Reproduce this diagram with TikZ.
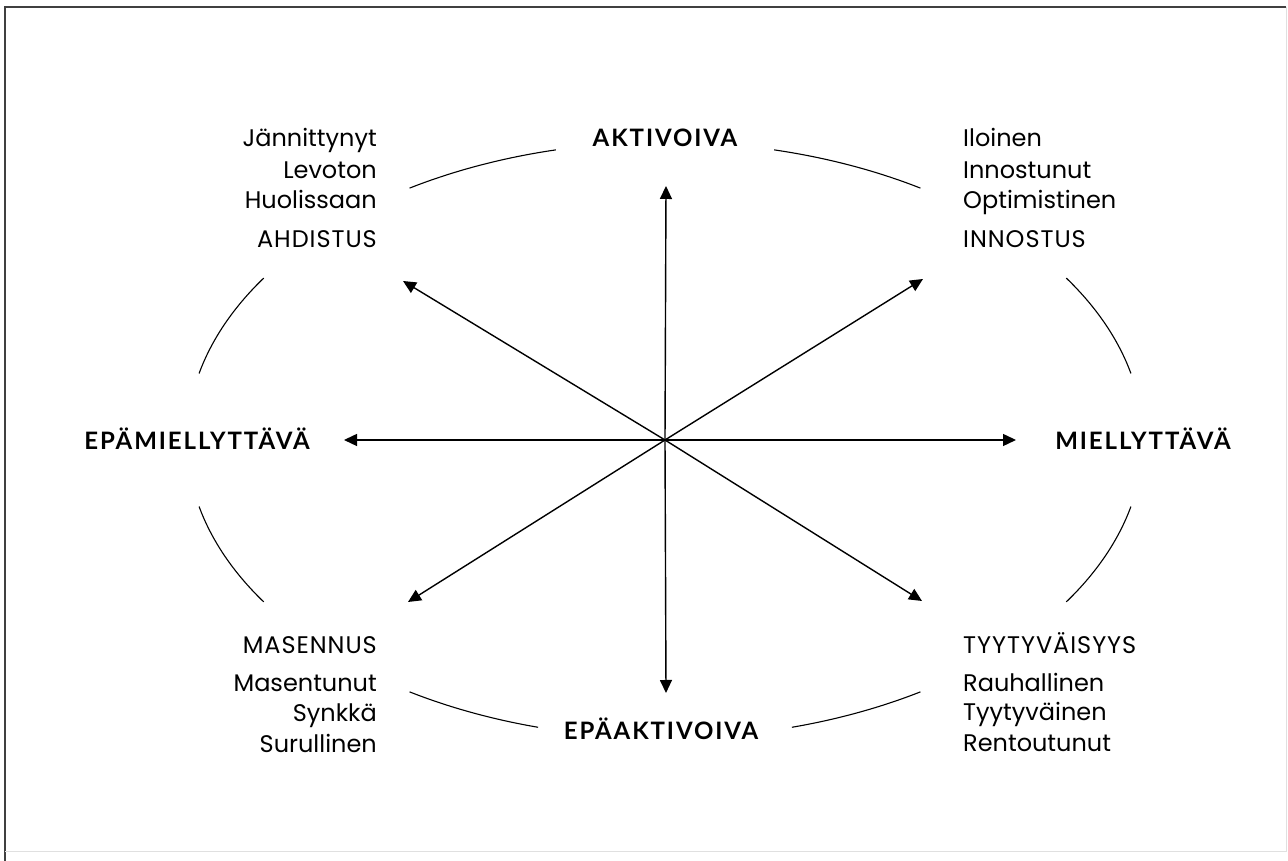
\documentclass[tikz,border=0pt]{standalone}
\usepackage{fontspec}
\setmainfont{Poppins}
\newfontfamily\labfont{Lato}[LetterSpace=8]
\newfontfamily\capfont{Poppins}[LetterSpace=4]
\usetikzlibrary{arrows.meta}
\begin{document}
\begin{tikzpicture}[x=1pt,y=1pt,
  word/.style={inner sep=0pt, font=\fontsize{24}{28}\selectfont},
  capword/.style={inner sep=0pt, font=\capfont\fontsize{24}{28}\selectfont},
  axislab/.style={inner sep=0pt, font=\labfont\bfseries\fontsize{24}{28}\selectfont},
  ray/.style={line width=1.4pt, -{Triangle[length=13pt,width=12pt]}},
  rim/.style={line width=1.1pt}]
\useasboundingbox (0,0) rectangle (1288,861);
\draw[line width=2pt, black!75] (5,0) -- (5,854) -- (1286,854);
\draw[line width=1pt, black!12] (1286,854) -- (1286,9) -- (5,9);

\coordinate (c) at (665,421);
\coordinate (up) at (666,675);
\coordinate (down) at (666,168);
\coordinate (left) at (344,421);
\coordinate (right) at (1016,421);
\coordinate (ul) at (403,580);
\coordinate (ur) at (923,582);
\coordinate (dl) at (408,259);
\coordinate (dr) at (922,260);
\foreach \t in {up,down,left,right,ul,ur,dl,dr}
  \draw[ray] (c) -- (\t);

% ellipse arcs
\foreach \a/\b in {57.7/76.8, 103.2/122.3, 147.1/167.1, 192.9/212.9, 237.7/254.6, 285.4/302.3, 327.1/347.1, 12.9/32.9}
  \draw[rim] (c) ++(\a:478 and 298) arc[start angle=\a, end angle=\b, x radius=478, y radius=298];

% axis labels
\node[axislab, anchor=base] (act) at (665,714) {AKTIVOIVA};
\node[axislab, anchor=base] (pas) at (661,121) {EPÄAKTIVOIVA};
\node[axislab, anchor=base] (neg) at (197,411) {EPÄMIELLYTTÄVÄ};
\node[axislab, anchor=base] (pos) at (1143,411) {MIELLYTTÄVÄ};

% top left
\node[word, anchor=base east] (j1) at (377,714) {Jännittynyt};
\node[word, anchor=base east] (j2) at (377,682) {Levoton};
\node[word, anchor=base east] (j3) at (377,652) {Huolissaan};
\node[capword, anchor=base east] (j4) at (377,613) {AHDISTUS};
% top right
\node[word, anchor=base west] (i1) at (963,714) {Iloinen};
\node[word, anchor=base west] (i2) at (963,682) {Innostunut};
\node[word, anchor=base west] (i3) at (963,652) {Optimistinen};
\node[capword, anchor=base west] (i4) at (963,613) {INNOSTUS};
% bottom left
\node[capword, anchor=base east] (m1) at (377,207) {MASENNUS};
\node[word, anchor=base east] (m2) at (377,169) {Masentunut};
\node[word, anchor=base east] (m3) at (377,139) {Synkkä};
\node[word, anchor=base east] (m4) at (377,108) {Surullinen};
% bottom right
\node[capword, anchor=base west] (t1) at (963,207) {TYYTYVÄISYYS};
\node[word, anchor=base west] (t2) at (963,169) {Rauhallinen};
\node[word, anchor=base west] (t3) at (963,140) {Tyytyväinen};
\node[word, anchor=base west] (t4) at (963,109) {Rentoutunut};
\end{tikzpicture}
\end{document}
